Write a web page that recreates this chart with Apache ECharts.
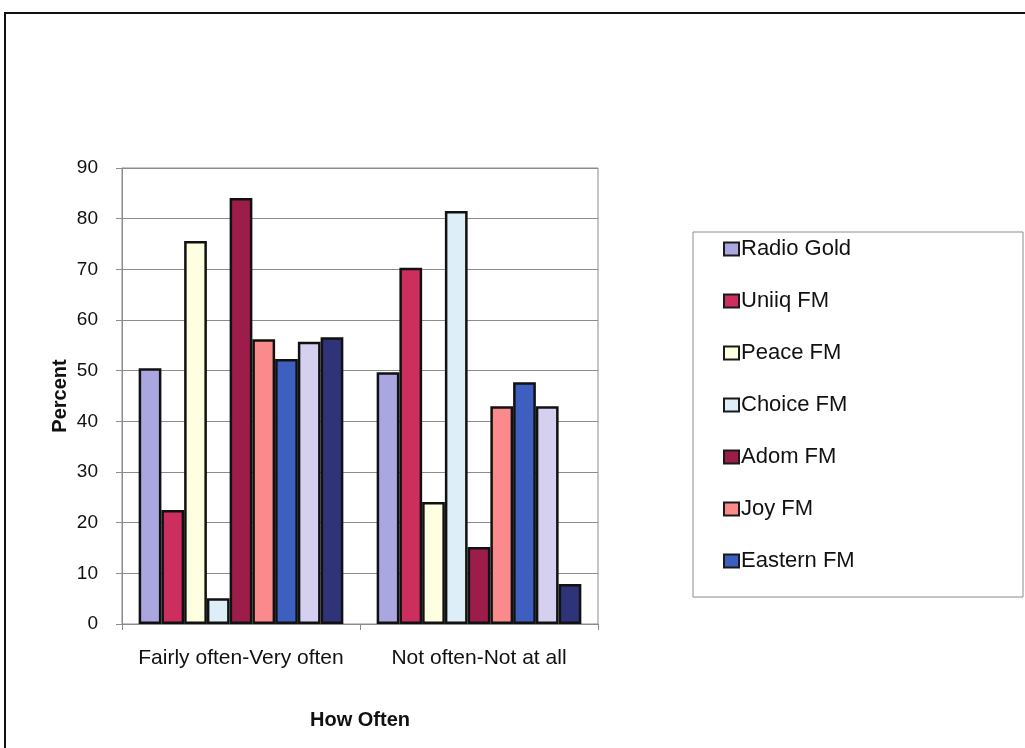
<!DOCTYPE html>
<html>
<head>
<meta charset="utf-8">
<script src="https://cdn.jsdelivr.net/npm/echarts@6/dist/echarts.min.js"></script>
<style>
  html, body { margin: 0; padding: 0; background: #ffffff; }
  #chart { width: 1025px; height: 748px; }
</style>
</head>
<body>
<div id="chart"></div>
<script>
// Listening frequency per station, in percent
const categories = ['Fairly often-Very often', 'Not often-Not at all'];
const stationNames = ['Radio Gold', 'Uniiq FM', 'Peace FM', 'Choice FM', 'Adom FM', 'Joy FM', 'Eastern FM', 'Series 8', 'Series 9'];
const radioGold = [50.5, 49.7];
const uniiqFm = [22.5, 70.3];
const peaceFm = [75.6, 24.1];
const choiceFm = [5.1, 81.5];
const adomFm = [84.1, 15.2];
const joyFm = [56.2, 43.0];
const easternFm = [52.3, 47.7];
const series8 = [55.7, 43.0];
const series9 = [56.6, 7.9];
const yTicks = { min: 0, max: 90, interval: 10 };
const legendNames = stationNames.slice(0, 7);

const values = [radioGold, uniiqFm, peaceFm, choiceFm, adomFm, joyFm, easternFm, series8, series9];
const colors = ['#aaa6e0', '#cc2f5e', '#fefee0', '#ddeef8', '#9c1c4a', '#fb8a8c', '#3c5fc0', '#d6d0f0', '#2f3479'];

const font = '"Liberation Sans", Arial, sans-serif';

const chart = echarts.init(document.getElementById('chart'), null, { renderer: 'canvas' });

chart.setOption({
  backgroundColor: '#ffffff',
  animation: false,
  textStyle: { fontFamily: font, color: '#111' },
  grid: { left: 122, top: 168, width: 476, height: 456, show: true, borderColor: '#8c8c8c', borderWidth: 1 },
  legend: {
    orient: 'vertical',
    left: 718,
    top: 233,
    data: legendNames,
    itemWidth: 15,
    itemHeight: 13,
    itemGap: 30,
    icon: 'rect',
    itemStyle: { borderColor: '#1a1a1a', borderWidth: 2 },
    textStyle: { fontFamily: font, fontSize: 22, color: '#111', lineHeight: 22, padding: [0, 0, 0, -3] }
  },
  graphic: [
    { type: 'rect', shape: { x: 5, y: 13, width: 1040, height: 760 }, style: { fill: 'none', stroke: '#111', lineWidth: 2 }, silent: true },
    { type: 'rect', shape: { x: 693, y: 232, width: 330, height: 365 }, style: { fill: 'none', stroke: '#8c8c8c', lineWidth: 1 }, silent: true }
  ],
  xAxis: {
    type: 'category',
    data: categories,
    name: 'How Often',
    nameLocation: 'middle',
    nameGap: 86,
    nameTextStyle: { fontFamily: font, fontSize: 20, fontWeight: 'bold', color: '#111' },
    axisLine: { lineStyle: { color: '#8c8c8c', width: 1 } },
    axisTick: { show: true, length: 6, lineStyle: { color: '#8c8c8c' } },
    axisLabel: { fontFamily: font, fontSize: 21, color: '#111', margin: 24, interval: 0 },
    splitLine: { show: false }
  },
  yAxis: {
    type: 'value',
    min: yTicks.min,
    max: yTicks.max,
    interval: yTicks.interval,
    name: 'Percent',
    nameLocation: 'middle',
    nameGap: 52,
    nameTextStyle: { fontFamily: font, fontSize: 20, fontWeight: 'bold', color: '#111' },
    axisLine: { show: true, lineStyle: { color: '#8c8c8c', width: 1 } },
    axisTick: { show: true, length: 6, lineStyle: { color: '#8c8c8c' } },
    axisLabel: { fontFamily: font, fontSize: 19, color: '#111', margin: 24 },
    splitLine: { show: true, lineStyle: { color: '#8c8c8c', width: 1 } }
  },
  series: stationNames.map((name, i) => ({
    name: name,
    type: 'bar',
    data: values[i],
    barGap: '0%',
    barCategoryGap: '14%',
    itemStyle: { color: colors[i], borderColor: '#111', borderWidth: 2.5 }
  }))
});
</script>
</body>
</html>
